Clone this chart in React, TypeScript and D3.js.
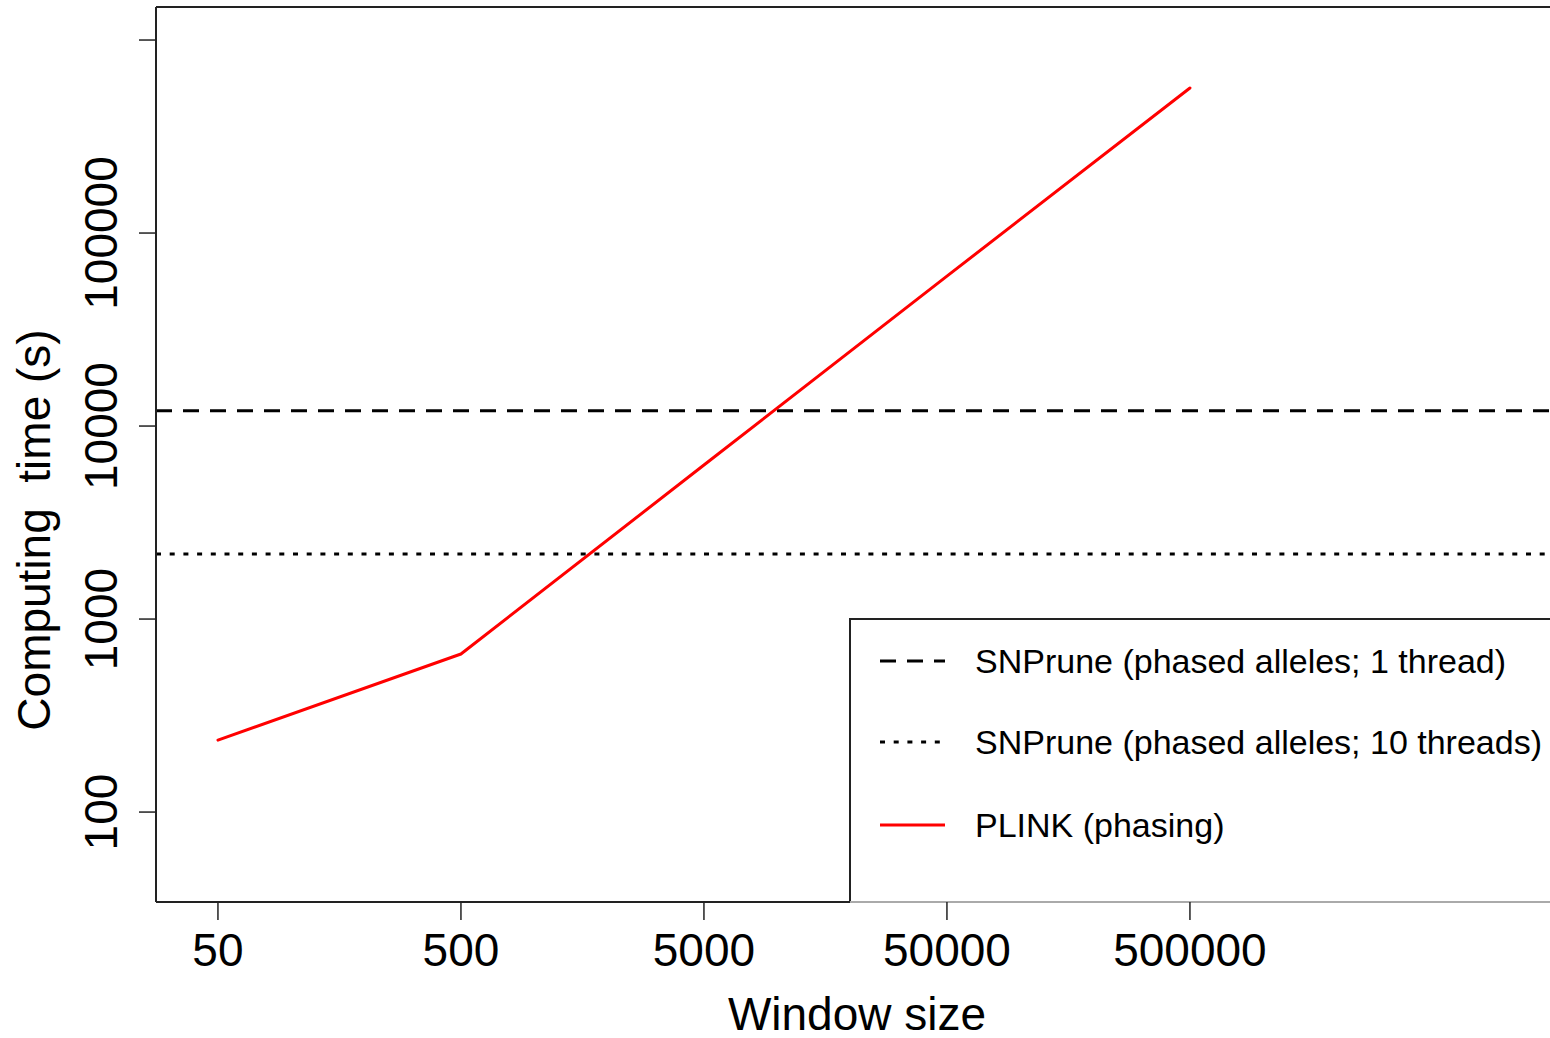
import * as d3 from "d3";
import { useEffect, useRef } from "react";

// window sizes tested (x) and PLINK computing times (s)
const windowSizes = [50, 500, 5000, 50000, 500000];
const plinkTimes = [236, 659, 6280, 59800, 564000];

// SNPrune times are constant over window size
const snprune1Thread = 12000;
const snprune10Threads = 2170;

const xTicks = [50, 500, 5000, 50000, 500000];
const yTicks = [100, 1000, 10000, 100000, 1000000];
const yTickLabels = ["100", "1000", "10000", "100000", ""];

const legendLabels = [
  "SNPrune (phased alleles; 1 thread)",
  "SNPrune (phased alleles; 10 threads)",
  "PLINK (phasing)",
];

const W = 1550;
const H = 1038;
const FONT = "'Liberation Sans', Arial, sans-serif";

const App = () => {
  const chartRef = useRef<SVGSVGElement>(null);

  useEffect(() => {
    const svg = d3.select(chartRef.current);
    svg.selectAll("*").remove();

    // plot region
    const margin = { top: 7, bottom: 136, left: 156, right: -2 };
    const x0 = margin.left;
    const x1 = W - margin.right;
    const y0 = margin.top;
    const y1 = H - margin.bottom;

    const x = d3.scaleLog().domain([27.8, 1.545e7]).range([x0, x1]);
    const y = d3.scaleLog().domain([34.2, 1.483e6]).range([y1, y0]);

    const ink = "#222";

    // series lines
    svg.append("line")
      .attr("x1", x0).attr("x2", x1)
      .attr("y1", y(snprune1Thread)).attr("y2", y(snprune1Thread))
      .attr("stroke", "#000").attr("stroke-width", 3)
      .attr("stroke-dasharray", "16,11");

    svg.append("line")
      .attr("x1", x0).attr("x2", x1)
      .attr("y1", y(snprune10Threads)).attr("y2", y(snprune10Threads))
      .attr("stroke", "#000").attr("stroke-width", 3)
      .attr("stroke-dasharray", "5,8.7");

    const line = d3.line<number>()
      .x((_, i) => x(windowSizes[i]))
      .y(d => y(d));

    svg.append("path")
      .datum(plinkTimes)
      .attr("d", line)
      .attr("fill", "none")
      .attr("stroke", "#ff0000")
      .attr("stroke-width", 3)
      .attr("stroke-linecap", "round")
      .attr("stroke-linejoin", "round");

    // legend box (white, covers the lines under it)
    const legX = 850;
    const legY = 619;
    svg.append("rect")
      .attr("x", legX).attr("y", legY)
      .attr("width", x1 - legX + 5).attr("height", y1 - legY)
      .attr("fill", "#fff").attr("stroke", ink).attr("stroke-width", 2);

    const rowY = [661, 742, 825];
    const dashes = ["16,11", "5,8.7", null];
    const colors = ["#000", "#000", "#ff0000"];
    legendLabels.forEach((lab, i) => {
      const l = svg.append("line")
        .attr("x1", 880).attr("x2", 945)
        .attr("y1", rowY[i]).attr("y2", rowY[i])
        .attr("stroke", colors[i]).attr("stroke-width", 3);
      if (dashes[i]) l.attr("stroke-dasharray", dashes[i]);
      svg.append("text")
        .attr("x", 975).attr("y", rowY[i] + 12)
        .attr("font-family", FONT).attr("font-size", 34)
        .text(lab);
    });

    // plot frame
    svg.append("line").attr("x1", x0).attr("x2", x1).attr("y1", y0).attr("y2", y0)
      .attr("stroke", ink).attr("stroke-width", 2);
    svg.append("line").attr("x1", x0).attr("x2", x0).attr("y1", y0).attr("y2", y1)
      .attr("stroke", ink).attr("stroke-width", 2);
    svg.append("line").attr("x1", x0).attr("x2", legX).attr("y1", y1).attr("y2", y1)
      .attr("stroke", ink).attr("stroke-width", 2);
    svg.append("line").attr("x1", legX).attr("x2", x1).attr("y1", y1).attr("y2", y1)
      .attr("stroke", "#aaa").attr("stroke-width", 2);

    // x axis
    const xAxis = svg.append("g").attr("transform", `translate(0, ${y1})`);
    xAxis.selectAll("line")
      .data(xTicks).enter().append("line")
      .attr("x1", d => x(d)).attr("x2", d => x(d))
      .attr("y1", 0).attr("y2", 18)
      .attr("stroke", ink).attr("stroke-width", 1.5);
    xAxis.selectAll("text")
      .data(xTicks).enter().append("text")
      .attr("x", d => x(d)).attr("y", 64)
      .attr("text-anchor", "middle")
      .attr("font-family", FONT).attr("font-size", 46)
      .text(d => String(d));

    // y axis
    const yAxis = svg.append("g").attr("transform", `translate(${x0}, 0)`);
    yAxis.selectAll("line")
      .data(yTicks).enter().append("line")
      .attr("x1", -17).attr("x2", 0)
      .attr("y1", d => y(d)).attr("y2", d => y(d))
      .attr("stroke", ink).attr("stroke-width", 1.5);
    yAxis.selectAll("text")
      .data(yTicks).enter().append("text")
      .attr("transform", d => `translate(-39, ${y(d)}) rotate(-90)`)
      .attr("text-anchor", "middle")
      .attr("font-family", FONT).attr("font-size", 46)
      .text((_, i) => yTickLabels[i]);

    // axis titles
    svg.append("text")
      .attr("x", 857).attr("y", 1030)
      .attr("text-anchor", "middle")
      .attr("font-family", FONT).attr("font-size", 46)
      .text("Window size");

    svg.append("text")
      .attr("transform", `translate(50, 530) rotate(-90)`)
      .attr("text-anchor", "middle")
      .attr("font-family", FONT).attr("font-size", 46)
      .attr("xml:space", "preserve")
      .style("white-space", "pre")
      .text("Computing  time (s)");
  }, []);

  return (
    <svg
      ref={chartRef}
      width={W}
      height={H}
      style={{ position: "absolute", left: 0, top: 0, background: "#fff" }}
    />
  );
};

export default App;
